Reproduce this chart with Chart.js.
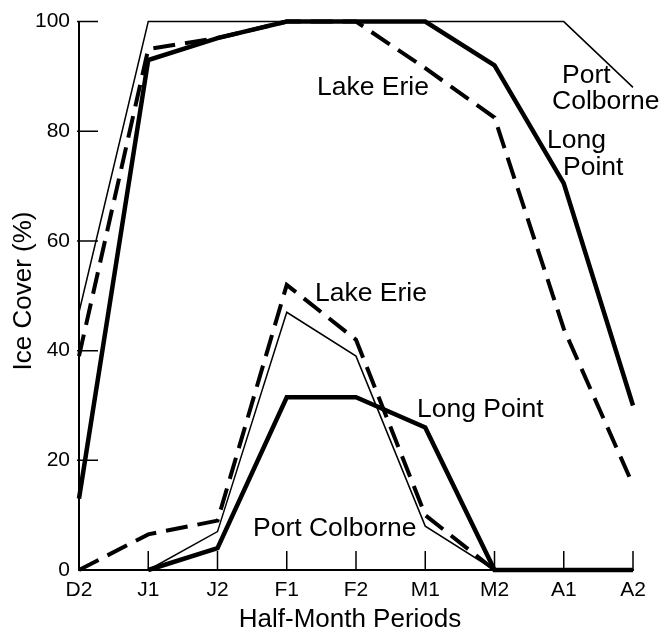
<!DOCTYPE html>
<html>
<head>
<meta charset="utf-8">
<script src="https://cdn.jsdelivr.net/npm/chart.js@4"></script>
<style>
  html, body { margin: 0; padding: 0; background: #fff; }
  #wrap { width: 663px; height: 629px; }
</style>
</head>
<body>
<div id="wrap"><canvas id="hielo"></canvas></div>
<script>
// periodos de medio mes
const periods = ['D2', 'J1', 'J2', 'F1', 'F2', 'M1', 'M2', 'A1', 'A2'];
const yTicks = [0, 20, 40, 60, 80, 100];

// cobertura maxima (%)
const erieMax = [39, 95, 97, 100, 100, 91.5, 82.5, 44, 15.5];
const longPointMax = [13, 93, 97, 100, 100, 100, 92, 70.5, 30];
const portColborneMax = [47, 100, 100, 100, 100, 100, 100, 100, 88];

// cobertura minima (%)
const erieMin = [0, 6.5, 9, 52, 42, 10, 0, 0, 0];
const longPointMin = [null, 0, 4, 31.5, 31.5, 26, 0, 0, 0];
const portColborneMin = [null, 0, 7, 47, 39, 8, 0, 0, 0];

const FONT = '"Liberation Sans", Arial, Helvetica, sans-serif';

// etiquetas de las curvas
const curveLabels = [
  { text: 'Lake Erie', x: 317, y: 95 },
  { text: 'Port', x: 562, y: 83 },
  { text: 'Colborne', x: 552, y: 109 },
  { text: 'Long', x: 547, y: 148 },
  { text: 'Point', x: 563, y: 175 },
  { text: 'Lake Erie', x: 315, y: 301 },
  { text: 'Long Point', x: 417, y: 417 },
  { text: 'Port Colborne', x: 253, y: 536 }
];

function serie(data, estilo) {
  let base = {
    data: data,
    borderColor: '#000',
    pointRadius: 0,
    tension: 0,
    fill: false,
    clip: false,
    borderCapStyle: 'butt',
    borderJoinStyle: 'miter'
  };
  if (estilo == 'grueso') { base.borderWidth = 4.5; }
  if (estilo == 'fino') { base.borderWidth = 1.5; }
  if (estilo == 'rayas') { base.borderWidth = 4; base.borderDash = [22, 10]; }
  return base;
}

// marcas hacia adentro, textos y titulos de ejes
const extras = {
  id: 'extras',
  afterDraw(chart) {
    const ctx = chart.ctx;
    const x = chart.scales.x, y = chart.scales.y;
    const area = chart.chartArea;
    ctx.save();
    ctx.strokeStyle = '#000';
    ctx.lineWidth = 1.5;
    ctx.beginPath();
    yTicks.forEach(v => {
      if (v == 0) return;
      let py = y.getPixelForValue(v);
      ctx.moveTo(area.left - 2, py);
      ctx.lineTo(area.left + 19, py);
    });
    periods.forEach((p, i) => {
      if (i == 0) return;
      let px = x.getPixelForValue(i);
      ctx.moveTo(px, area.bottom);
      ctx.lineTo(px, area.bottom - 19);
    });
    ctx.stroke();

    ctx.fillStyle = '#000';
    ctx.font = '26.5px ' + FONT;
    ctx.textAlign = 'left';
    ctx.textBaseline = 'alphabetic';
    curveLabels.forEach(l => ctx.fillText(l.text, l.x, l.y));

    ctx.font = '26px ' + FONT;
    ctx.textAlign = 'center';
    ctx.fillText('Half-Month Periods', 350, 627);
    ctx.translate(31, 291);
    ctx.rotate(-Math.PI / 2);
    ctx.fillText('Ice Cover (%)', 0, 0);
    ctx.restore();
  }
};

const ctxHielo = document.getElementById('hielo').getContext('2d');
const grafico = new Chart(ctxHielo, {
  type: 'line',
  data: {
    labels: periods,
    datasets: [
      serie(erieMax, 'rayas'),
      serie(longPointMax, 'grueso'),
      serie(portColborneMax, 'fino'),
      serie(erieMin, 'rayas'),
      serie(longPointMin, 'grueso'),
      serie(portColborneMin, 'fino')
    ]
  },
  options: {
    responsive: true,
    maintainAspectRatio: false,
    animation: false,
    layout: { padding: { top: 20, right: 30, left: 0, bottom: 0 } },
    plugins: { legend: { display: false }, tooltip: { enabled: false } },
    scales: {
      x: {
        offset: false,
        grid: { display: false, drawTicks: false },
        border: { display: true, color: '#000', width: 2 },
        ticks: { color: '#000', font: { family: FONT, size: 21 }, padding: 8, maxRotation: 0 },
        afterFit(scale) { scale.height = 59; }
      },
      y: {
        min: 0,
        max: 100,
        grid: { display: false, drawTicks: false },
        border: { display: true, color: '#000', width: 2 },
        ticks: { stepSize: 20, color: '#000', font: { family: FONT, size: 21 }, padding: 9 },
        afterFit(scale) { scale.width = 79; }
      }
    }
  },
  plugins: [extras]
});
</script>
</body>
</html>
